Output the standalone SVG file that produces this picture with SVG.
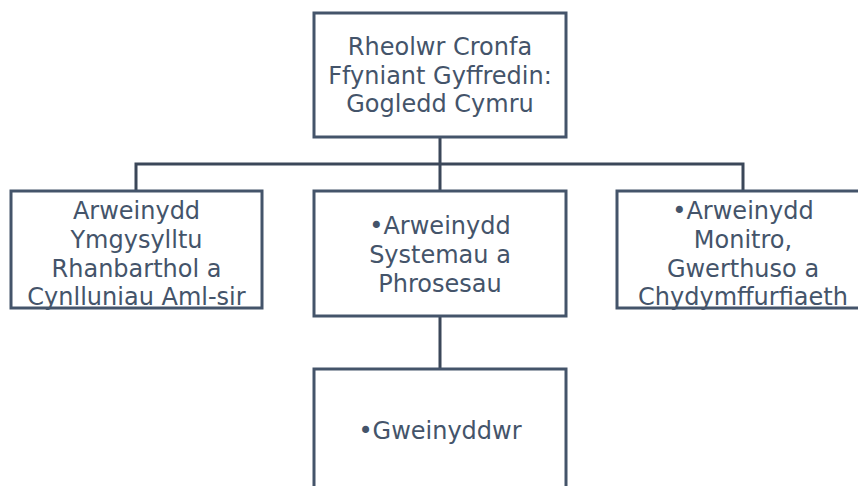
<svg xmlns="http://www.w3.org/2000/svg" width="858" height="486" viewBox="0 0 858 486">
<style>
.box{fill:#ffffff;stroke:#44546A;stroke-width:3}
.lbl{font-family:"DejaVu Sans","Liberation Sans",sans-serif;font-size:24px;fill:#44546A;text-anchor:middle}
.conn{fill:none;stroke:#3B4759;stroke-width:3}
</style>
<rect width="858" height="486" fill="#ffffff"/>
<g id="connectors">
<path class="conn" d="M440 137V164M136 191V164H743V191M440 164V191M440 316V369"/>
</g>
<g id="n-top">
<rect class="box" x="314" y="13" width="252" height="124"/>
<text class="lbl" x="440" y="55">Rheolwr Cronfa</text>
<text class="lbl" x="440" y="84">Ffyniant Gyffredin:</text>
<text class="lbl" x="440" y="112">Gogledd Cymru</text>
</g>
<g id="n-left">
<rect class="box" x="11" y="191" width="251" height="117"/>
<text class="lbl" x="136.5" y="219">Arweinydd</text>
<text class="lbl" x="136.5" y="248">Ymgysylltu</text>
<text class="lbl" x="136.5" y="277">Rhanbarthol a</text>
<text class="lbl" x="136.5" y="305">Cynlluniau Aml-sir</text>
</g>
<g id="n-mid">
<rect class="box" x="314" y="191" width="252" height="125"/>
<text class="lbl" x="440" y="234">•Arweinydd</text>
<text class="lbl" x="440" y="263">Systemau a</text>
<text class="lbl" x="440" y="292">Phrosesau</text>
</g>
<g id="n-right">
<rect class="box" x="617" y="191" width="252" height="117"/>
<text class="lbl" x="743" y="219">•Arweinydd</text>
<text class="lbl" x="743" y="248">Monitro,</text>
<text class="lbl" x="743" y="277">Gwerthuso a</text>
<text class="lbl" x="743" y="305">Chydymffurfiaeth</text>
</g>
<g id="n-bottom">
<rect class="box" x="314" y="369" width="252" height="125"/>
<text class="lbl" x="440" y="439">•Gweinyddwr</text>
</g>
</svg>
